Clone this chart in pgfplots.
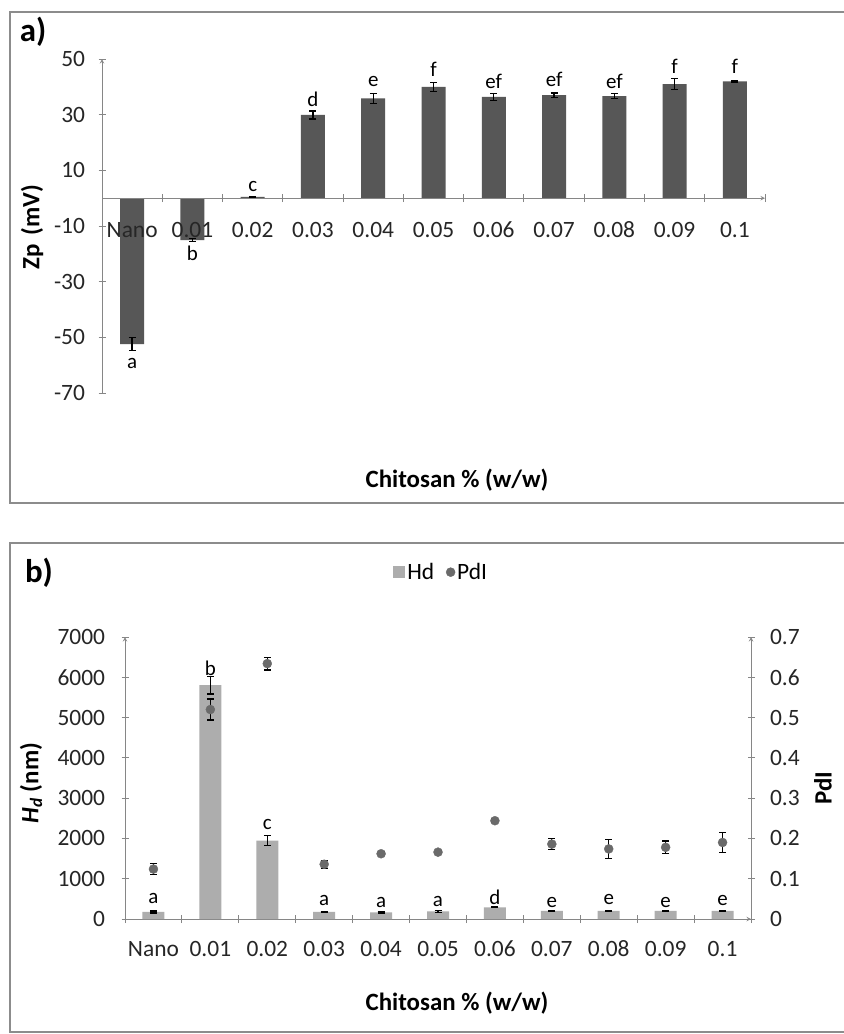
\documentclass[border=0pt]{standalone}
\usepackage{pgfplots}
\pgfplotsset{compat=1.18}
\usepackage{fontspec}
\setmainfont{Carlito}
\definecolor{axgray}{HTML}{868686}
\definecolor{bardark}{HTML}{575757}
\definecolor{barlight}{HTML}{ADADAD}
\definecolor{dotgray}{HTML}{6A6A6A}
\definecolor{boxgray}{HTML}{8C8C8C}
\newcommand{\tickfont}{\fontsize{23.5}{26}\selectfont}
\newcommand{\letfont}{\fontsize{21}{23}\selectfont}
\newcommand{\titfont}{\fontsize{25}{28}\selectfont\bfseries}
\pgfplotsset{
  common/.style={
    scale only axis,
    xmin=-0.5, xmax=10.5,
    axis line style={axgray, line width=1bp, -},
    tick style={axgray, line width=1bp},
    major x tick style={draw=none},
    tick align=outside,
    major tick length=7bp,
    minor tick length=8bp,
    minor xtick={-0.5,0.5,...,10.5},
    xtick={0,...,10},
    xticklabels={Nano,0.01,0.02,0.03,0.04,0.05,0.06,0.07,0.08,0.09,0.1},
    tick label style={font=\tickfont, text=black!85},
    /pgf/number format/assume math mode=true,
    /pgf/number format/1000 sep={},
    clip=false,
  },
  ebar/.style={error bars/y dir=both, error bars/y explicit,
    error bars/error bar style={black, line width=1.3bp},
    error bars/error mark options={black, line width=1.3bp, mark size=3.5bp, rotate=90}},
  letters/.style={draw=none, mark=none, nodes near coords, point meta=explicit symbolic,
    every node near coord/.append style={anchor=center, font=\letfont, text=black}},
}
\pgfplotstableread{
x  y      e    ly     lab
0  -52.4  2.3  -59.3  a
1  -15.1  0.5  -19.9  b
2  0.5    0.2  4.3    c
3  29.9   1.4  35.6   d
4  35.9   1.8  41.9   e
5  40.0   1.6  46.2   f
6  36.4   1.2  41.9   ef
7  37.0   0.8  42.6   ef
8  36.7   0.9  41.9   ef
9  41.0   2.0  47.4   f
10 42.0   0.3  47.4   f
}\zpdata
\pgfplotstableread{
x  y     e    ly    lab
0  175   25   520   a
1  5805  220  6218  b
2  1949  120  2337  c
3  175   20   454   a
4  165   15   413   a
5  190   20   438   a
6  290   10   545   d
7  200   15   413   e
8  200   15   479   e
9  200   15   413   e
10 200   15   454   e
}\hddata
\pgfplotstableread{
x  y      e
0  0.124  0.014
1  0.520  0.026
2  0.634  0.016
3  0.136  0.010
4  0.162  0.004
5  0.166  0.004
6  0.244  0.004
7  0.186  0.014
8  0.174  0.023
9  0.178  0.016
10 0.190  0.025
}\pdidata
\begin{document}
\begin{tikzpicture}[x=1bp,y=1bp]
\useasboundingbox (0,0) rectangle (844,-1034);
\fill[white] (0,0) rectangle (844,-1034);
\draw[boxgray, line width=1.5bp] (845,-12) -- (10,-12) -- (10,-503) -- (845,-503);
\draw[boxgray, line width=1.5bp] (845,-543) -- (10,-543) -- (10,-1032) -- (845,-1032);
% panel a
\begin{axis}[common,
  at={(102bp,-393bp)}, anchor=south west, width=663bp, height=334bp,
  ymin=-70, ymax=50, ytick={-70,-50,...,50},
  axis x line=middle, axis y line=left, axis on top,
  xticklabel style={yshift=-17bp, text height=15bp, text depth=1bp},
  yticklabel style={xshift=-10bp},
]
\addplot[ybar, bar width=24bp, fill=bardark, draw=none, ebar] table[x=x, y=y, y error=e] {\zpdata};
\addplot[letters] table[x=x, y=ly, meta=lab] {\zpdata};
\end{axis}
\node[font=\fontsize{33}{35}\selectfont\bfseries] at (33,-32) {a)};
\node[font=\titfont] at (457,-480) {Chitosan \% (w/w)};
\node[font=\titfont, rotate=90] at (32,-227) {Zp\,\,(mV)};
% panel b
\begin{axis}[common,
  at={(125bp,-919bp)}, anchor=south west, width=626bp, height=282bp,
  ymin=0, ymax=7000, ytick={0,1000,...,7000},
  axis x line=bottom, axis y line=left,
  xticklabel style={yshift=-15bp, text height=15bp, text depth=1bp},
  yticklabel style={xshift=-13bp},
  legend style={at={(0.505,1.23)}, anchor=center, draw=none, fill=none,
    legend columns=2, font=\tickfont,
    /tikz/every even column/.append style={column sep=10bp}},
]
\addplot[ybar, bar width=22bp, fill=barlight, draw=none, ebar,
  legend image code/.code={\fill[barlight] (0bp,-6bp) rectangle (12bp,6bp);}] table[x=x, y=y, y error=e] {\hddata};
\addlegendentry{Hd}
\addlegendimage{only marks, mark=*, mark size=4.5bp, dotgray}
\addlegendentry{PdI}
\addplot[letters, forget plot] table[x=x, y=ly, meta=lab] {\hddata};
\end{axis}
\begin{axis}[common,
  at={(125bp,-919bp)}, anchor=south west, width=626bp, height=282bp,
  ymin=0, ymax=0.7, ytick={0,0.1,...,0.7},
  axis x line=none, axis y line=right,
  yticklabel style={xshift=12bp, /pgf/number format/.cd, fixed, precision=1},
]
\addplot[only marks, mark=*, mark size=4.5bp, dotgray, ebar] table[x=x, y=y, y error=e] {\pdidata};
\end{axis}
\node[font=\fontsize{33}{35}\selectfont\bfseries] at (39,-573) {b)};
\node[font=\titfont] at (457,-1003) {Chitosan \% (w/w)};
\node[font=\titfont, rotate=90] at (31,-783) {\textit{H\textsubscript{d}} (nm)};
\node[font=\titfont, rotate=90] at (823,-788) {PdI};
\end{tikzpicture}
\end{document}
